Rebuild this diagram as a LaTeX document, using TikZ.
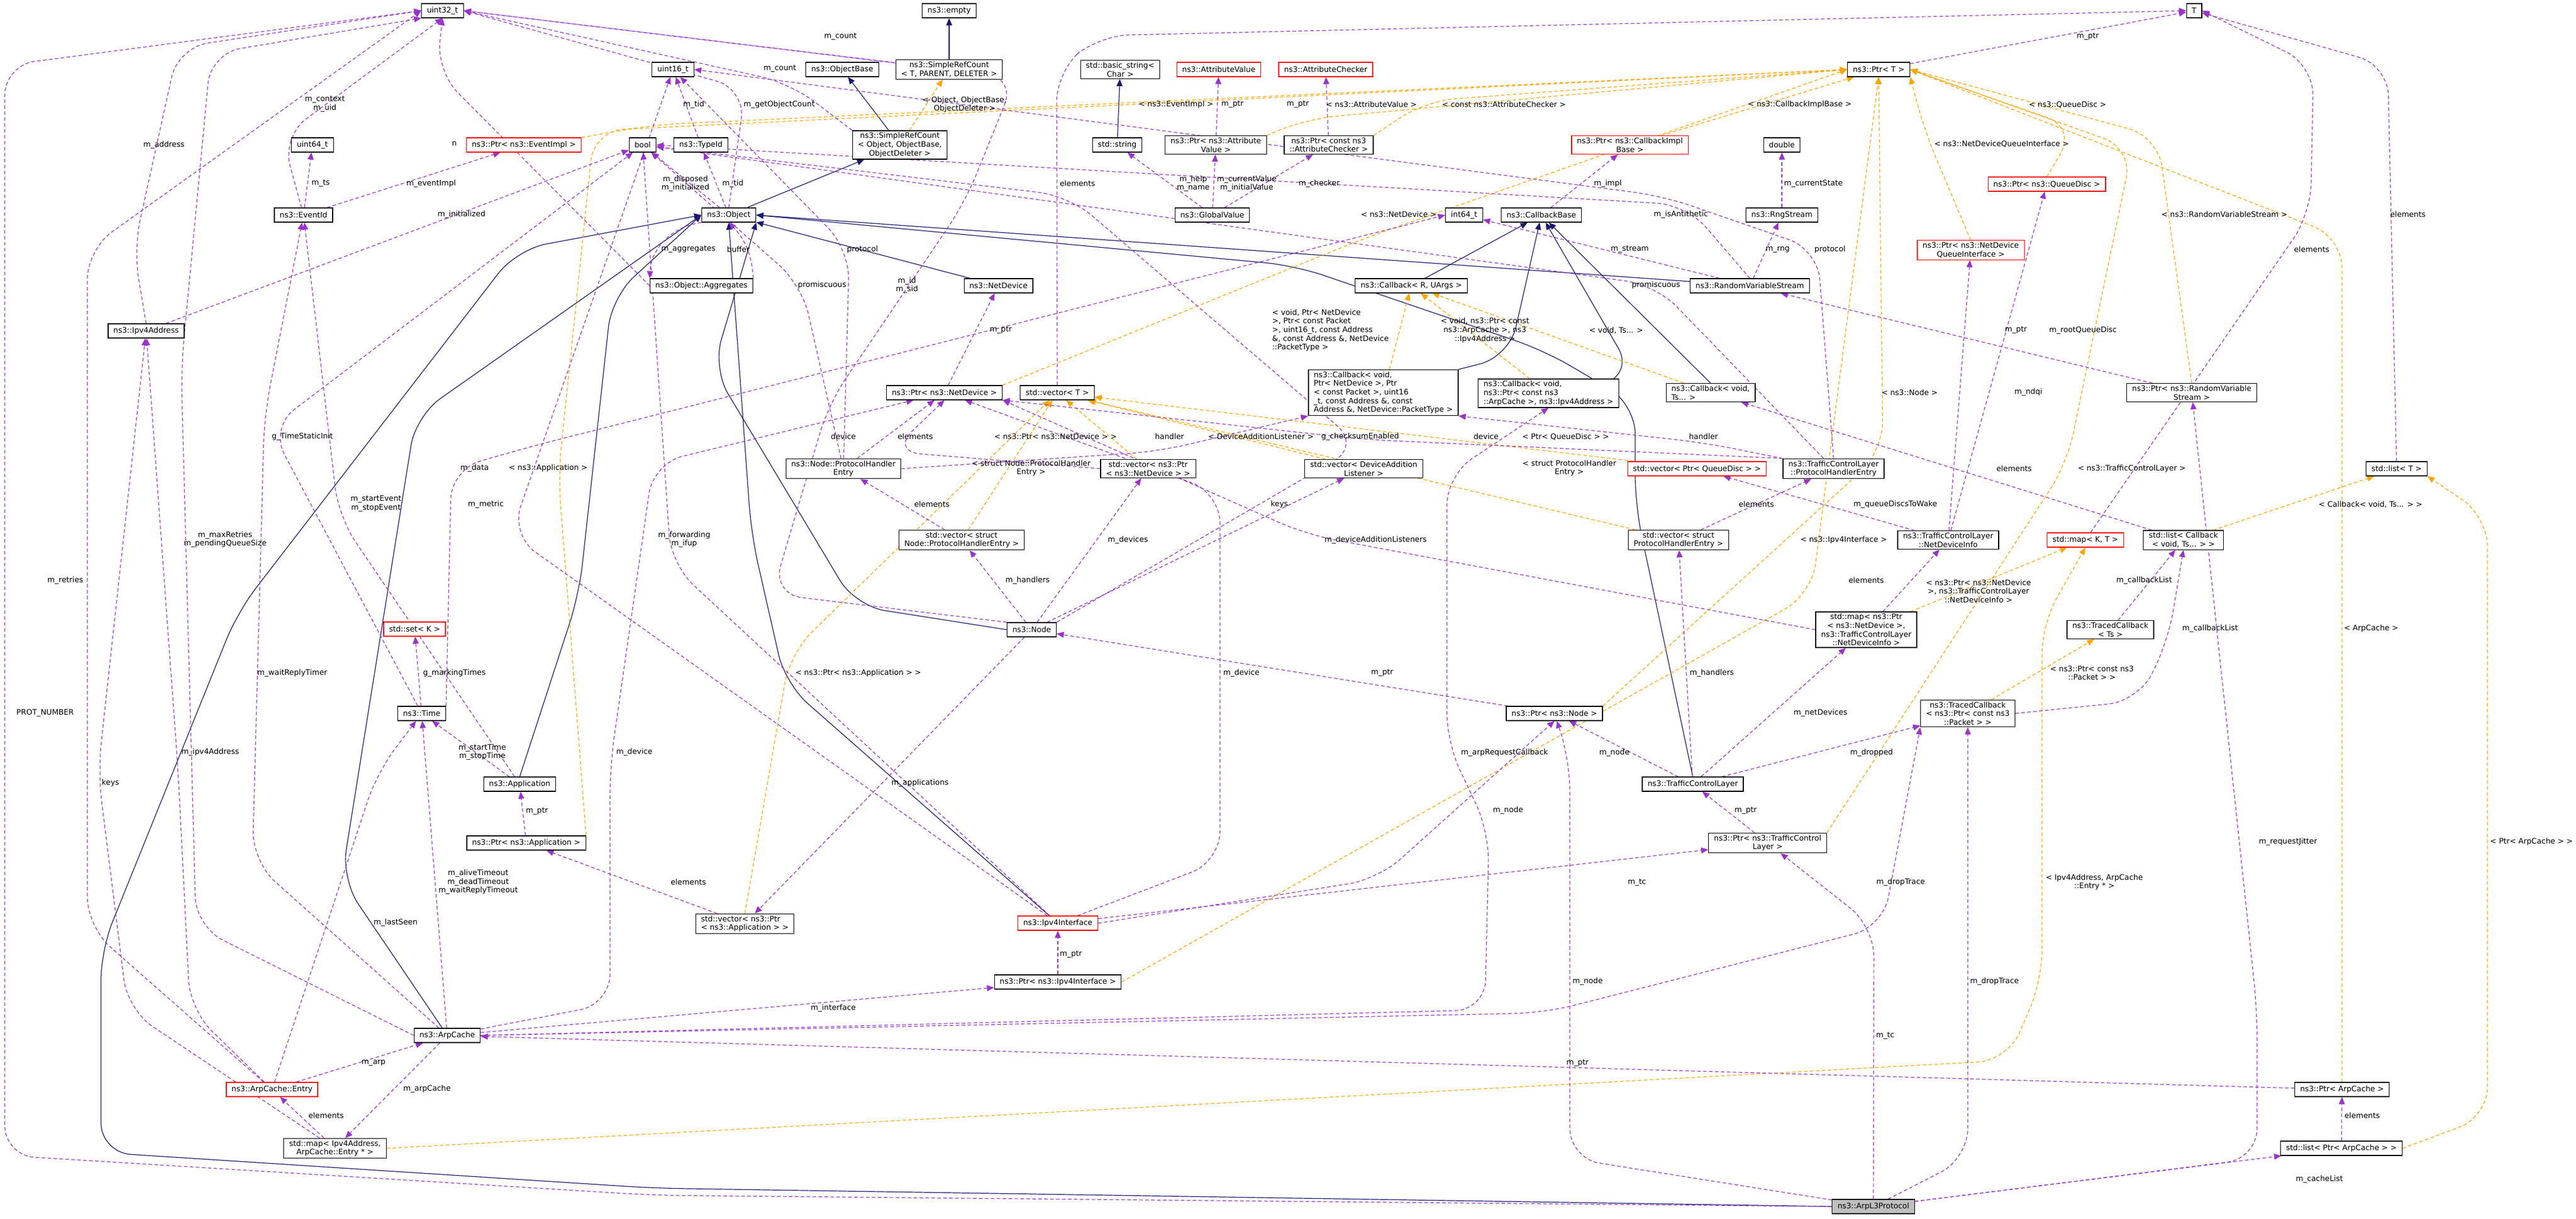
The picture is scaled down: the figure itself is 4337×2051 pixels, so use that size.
\documentclass[tikz,border=0pt]{standalone}
\usepackage{fontspec}
\setmainfont{DejaVu Sans}
\usetikzlibrary{arrows.meta}
\definecolor{mem}{HTML}{9A32CD}
\definecolor{tplc}{HTML}{FFA500}
\definecolor{inhc}{HTML}{191970}
\pgfdeclarelayer{bg}
\pgfsetlayers{bg,main}
\begin{document}
\begin{tikzpicture}[x=0.5pt,y=-0.5pt,
 every node/.style={font=\fontsize{6.4}{7.3}\selectfont},
 box/.style={draw=black,line width=0.6pt,fill=white,inner xsep=4.5pt,inner ysep=1.6pt,minimum height=12pt,align=center},
 redbox/.style={box,draw=red},
 lbl/.style={inner sep=0pt,align=center},
 memb/.style={draw=mem,line width=0.6pt,dash pattern=on 3pt off 2pt,-{Triangle[length=6pt,width=5pt]},rounded corners=25pt},
 tpl/.style={draw=tplc,line width=0.6pt,dash pattern=on 3pt off 2pt,-{Triangle[length=6pt,width=5pt]},rounded corners=25pt},
 inh/.style={draw=inhc,line width=0.6pt,-{Triangle[length=6pt,width=5pt]},rounded corners=25pt}]
\useasboundingbox (0,0) rectangle (4337,2051);
\begin{pgfonlayer}{bg}
\fill[white] (0,0) rectangle (4337,2051);
\end{pgfonlayer}
\path
 (745,18) node[box] (u32) {uint32\_t}
 (1133,117) node[box] (u16) {uint16\_t}
 (526,244) node[box] (u64) {uint64\_t}
 (882,244) node[redbox] (pEvImpl) {ns3::Ptr< ns3::EventImpl >}
 (1082,244) node[box] (bool) {bool}
 (511,362) node[box] (evid) {ns3::EventId}
 (246,557) node[box] (ipv4a) {ns3::Ipv4Address}
 (1418,117) node[box] (objbase) {ns3::ObjectBase}
 (1598,18) node[box] (empty) {ns3::empty}
 (1598,117) node[box] (srcT) {ns3::SimpleRefCount\\< T, PARENT, DELETER >}
 (1180,244) node[box] (typeid) {ns3::TypeId}
 (1515,244) node[box] (srcObj) {ns3::SimpleRefCount\\< Object, ObjectBase,\\ ObjectDeleter >}
 (1886,117) node[box] (bstr) {std::basic\_string<\\ Char >}
 (2052,117) node[redbox] (attval) {ns3::AttributeValue}
 (1881,244) node[box] (stdstr) {std::string}
 (2047,244) node[box] (pattval) {ns3::Ptr< ns3::Attribute\\Value >}
 (1227,362) node[box] (object) {ns3::Object}
 (2041,362) node[box] (gval) {ns3::GlobalValue}
 (1181,481) node[box] (aggr) {ns3::Object::Aggregates}
 (1681,481) node[box] (netdev) {ns3::NetDevice}
 (1590,661) node[box] (pnetdev) {ns3::Ptr< ns3::NetDevice >}
 (1780,661) node[box] (vecT) {std::vector< T >}
 (1420,789) node[box] (nphe) {ns3::Node::ProtocolHandler\\Entry}
 (1933,789) node[box] (vecpnd) {std::vector< ns3::Ptr\\< ns3::NetDevice > >}
 (1619,909) node[box] (vecnphe) {std::vector< struct\\ Node::ProtocolHandlerEntry >}
 (2232,117) node[redbox] (attchk) {ns3::AttributeChecker}
 (3163,117) node[box] (ptrT) {ns3::Ptr< T >}
 (2237,244) node[box] (pattchk) {ns3::Ptr< const ns3\\::AttributeChecker >}
 (2744,244) node[redbox] (pcbimpl) {ns3::Ptr< ns3::CallbackImpl\\Base >}
 (3000,244) node[box] (double) {double}
 (2465,362) node[box] (i64) {int64\_t}
 (2595,362) node[box] (cbbase) {ns3::CallbackBase}
 (3000,362) node[box] (rng) {ns3::RngStream}
 (2376,481) node[box] (cbRU) {ns3::Callback< R, UArgs >}
 (2946,481) node[box] (rvs) {ns3::RandomVariableStream}
 (2329,661) node[box,align=left] (cbND) {ns3::Callback< void,\\ Ptr< NetDevice >, Ptr\\< const Packet >, uint16\\\_t, const Address \&, const\\ Address \&, NetDevice::PacketType >}
 (2607,662) node[box,align=left] (cbArp) {ns3::Callback< void,\\ ns3::Ptr< const ns3\\::ArpCache >, ns3::Ipv4Address >}
 (2880,661) node[box,align=left] (cbTs) {ns3::Callback< void,\\ Ts... >}
 (2296,789) node[box] (vecdal) {std::vector< DeviceAddition\\Listener >}
 (2857,789) node[redbox] (vecqd) {std::vector< Ptr< QueueDisc > >}
 (3087,789) node[box] (tphe) {ns3::TrafficControlLayer\\::ProtocolHandlerEntry}
 (2826,909) node[box] (vectphe) {std::vector< struct\\ ProtocolHandlerEntry >}
 (3280,909) node[box] (ndinfo) {ns3::TrafficControlLayer\\::NetDeviceInfo}
 (3694,18) node[box] (T) {T}
 (3446,310) node[redbox] (pqd) {ns3::Ptr< ns3::QueueDisc >}
 (3318,421) node[redbox] (pndqi) {ns3::Ptr< ns3::NetDevice\\QueueInterface >}
 (3690,661) node[box] (prvs) {ns3::Ptr< ns3::RandomVariable\\Stream >}
 (4035,789) node[box] (listT) {std::list< T >}
 (3511,909) node[redbox] (mapKT) {std::map< K, T >}
 (3676,909) node[box] (listcb) {std::list< Callback\\< void, Ts... > >}
 (698,1059) node[redbox] (setK) {std::set< K >}
 (710,1201) node[box] (time) {ns3::Time}
 (875,1320) node[box] (app) {ns3::Application}
 (886,1419) node[box] (papp) {ns3::Ptr< ns3::Application >}
 (753,1743) node[box] (arpcache) {ns3::ArpCache}
 (458,1834) node[redbox] (entry) {ns3::ArpCache::Entry}
 (564,1933) node[box] (mapip) {std::map< Ipv4Address,\\ArpCache::Entry * >}
 (1737,1060) node[box] (node) {ns3::Node}
 (1254,1555) node[box,align=left] (vecpapp) {std::vector< ns3::Ptr\\< ns3::Application > >}
 (1781,1554) node[redbox] (ipv4if) {ns3::Ipv4Interface}
 (1781,1653) node[box] (pipv4if) {ns3::Ptr< ns3::Ipv4Interface >}
 (3142,1060) node[box] (mapnd) {std::map< ns3::Ptr\\< ns3::NetDevice >,\\ ns3::TrafficControlLayer\\::NetDeviceInfo >}
 (2617,1201) node[box] (pnode) {ns3::Ptr< ns3::Node >}
 (2850,1320) node[box] (tcl) {ns3::TrafficControlLayer}
 (2976,1419) node[box] (ptcl) {ns3::Ptr< ns3::TrafficControl\\Layer >}
 (3154,2031) node[box,fill=black!25] (arpl3) {ns3::ArpL3Protocol}
 (3313,1201) node[box] (tcpkt) {ns3::TracedCallback\\< ns3::Ptr< const ns3\\::Packet > >}
 (3553,1060) node[box] (tcTs) {ns3::TracedCallback\\< Ts >}
 (3943,1834) node[box] (parp) {ns3::Ptr< ArpCache >}
 (3942,1933) node[box] (listparp) {std::list< Ptr< ArpCache > >};
\begin{pgfonlayer}{bg}
% ---------- inheritance ----------
\draw[inh] (srcT) -- (empty);
\draw[inh] (srcObj) -- (objbase);
\draw[inh] (object) -- (srcObj);
\draw[inh] (stdstr) -- (bstr);
\draw[inh] (netdev) -- (object);
\draw[inh] (node.west) -- (1440,1020) -- (1200,620) -- (object.south east);
\draw[inh] (app.north) -- (975,1000) -- (1030,500) -- (object.west);
\draw[inh] (arpcache) -- (575,1480) -- (700,700) -- (object.west);
\draw[inh] (ipv4if) -- (1322,1151) -- (1265,900) -- (object.south);
\draw[inh] (tcl.north) -- (2753,850) -- (2753,680) -- (2600,590) -- (2180,447) -- (object.east);
\draw[inh] (rvs) -- (object.east);
\draw[inh] (arpl3.west) -- (1100,2000) -- (170,1940) -- (170,1600) -- (400,1030) -- (870,420) -- (object.west);
\draw[inh] (cbRU) -- (cbbase);
\draw[inh] (cbND.north east) -- (2541,600) -- (cbbase);
\draw[inh] (cbArp.north east) -- (2750,630) -- (cbbase);
\draw[inh] (cbTs.north) -- (cbbase);
% ---------- templates ----------
\draw[tpl] (pEvImpl.north east) -- (1100,210) -- (ptrT.west);
\draw[tpl] (pattval.north east) -- (2200,200) -- (ptrT.west);
\draw[tpl] (pattchk.north east) -- (2400,170) -- (ptrT.west);
\draw[tpl] (pcbimpl) -- (ptrT);
\draw[tpl] (pnetdev.north east) -- (2300,400) -- (ptrT.west);
\draw[tpl] (pqd.north) -- (3495,215) -- (ptrT.east);
\draw[tpl] (pndqi.north) -- (3240,220) -- (ptrT.south east);
\draw[tpl] (prvs.north) -- (3633,230) -- (ptrT.east);
\draw[tpl] (pnode.north east) -- (3170,760) -- (ptrT.south);
\draw[tpl] (ptcl.north east) -- (3480,780) -- (3590,250) -- (ptrT.east);
\draw[tpl] (pipv4if.east) -- (3050,1000) -- (ptrT.south);
\draw[tpl] (papp.north east) -- (940,800) -- (1000,220) -- (ptrT.west);
\draw[tpl] (parp.north) -- (3943,400) -- (ptrT.east);
\draw[tpl] (srcObj) -- (srcT);
\draw[tpl] (vecpapp.north) -- (1330,1100) -- (vecT);
\draw[tpl] (vecnphe) -- (vecT);
\draw[tpl] (vecpnd) -- (vecT);
\draw[tpl] (vecdal) -- (vecT);
\draw[tpl] (vecqd) -- (vecT);
\draw[tpl] (vectphe) -- (vecT);
\draw[tpl] (cbND) -- (cbRU);
\draw[tpl] (cbArp) -- (cbRU);
\draw[tpl] (cbTs) -- (cbRU);
\draw[tpl] (listcb) -- (listT);
\draw[tpl] (listparp.east) -- (4188,1880) -- (4188,870) -- (listT.south east);
\draw[tpl] (mapnd) -- (mapKT);
\draw[tpl] (mapip.east) -- (3380,1785) -- (3438,1650) -- (3438,1050) -- (mapKT.south);
\draw[tpl] (tcpkt) -- (tcTs);
% ---------- members ----------
\draw[memb] (arpl3.west) -- (1100,2012) -- (8,1945) -- (8,110) -- (u32.west);
\draw[memb] (ipv4a.north) -- (225,420) -- (300,80) -- (u32.west);
\draw[memb] (entry) -- (147,1560) -- (147,420) -- (u32.west);
\draw[memb] (arpcache.west) -- (330,1560) -- (305,620) -- (355,90) -- (u32.south west);
\draw[memb] (evid) -- (475,230) -- (u32.south);
\draw[memb] (evid) -- (u64);
\draw[memb] (evid) -- (pEvImpl);
\draw[memb] (app) -- (570,870) -- (evid);
\draw[memb] (arpcache) -- (425,1450) -- (445,700) -- (evid);
\draw[memb] (ipv4a) -- (bool);
\draw[memb] (time) -- (455,720) -- (bool);
\draw[memb] (time.north east) -- (760,790) -- (900,750) -- (i64.west);
\draw[memb] (ipv4if) -- (860,900) -- (u16);
\draw[memb] (ipv4if) -- (1130,950) -- (bool);
\draw[memb] (aggr.west) -- (735,120) -- (u32.south);
\draw[memb] (object.north) -- (1255,150) -- (u32.east);
\draw[memb] (srcT) -- (u32.east);
\draw[memb] (srcObj.north west) -- (1330,140) -- (u32.east);
\draw[memb] (typeid) -- (u16);
\draw[memb] (object) -- (typeid);
\draw[memb] (object) -- (bool);
\draw[memb] (object.south west) to[bend right=40] (aggr.north west);
\draw[memb] (aggr.north east) to[bend right=20] (object.south);
\draw[memb] (pnetdev) -- (netdev);
\draw[memb] (mapip) -- (215,1700) -- (165,1300) -- (ipv4a);
\draw[memb] (entry) -- (320,1700) -- (300,1300) -- (ipv4a);
\draw[memb] (time) -- (setK);
\draw[memb] (app) -- (time);
\draw[memb] (arpcache) -- (time);
\draw[memb] (entry) -- (635,1300) -- (time);
\draw[memb] (papp) -- (app);
\draw[memb] (vecpapp) -- (papp);
\draw[memb] (node) -- (vecpapp);
\draw[memb] (entry) -- (arpcache);
\draw[memb] (arpcache) -- (mapip);
\draw[memb] (mapip) -- (entry);
\draw[memb] (arpcache) -- (pipv4if);
\draw[memb] (pipv4if) -- (ipv4if);
\draw[memb] (arpcache) -- (1027,1690) -- (1027,1290) -- (1100,780) -- (pnetdev);
\draw[memb] (parp) -- (arpcache);
\draw[memb] (arpcache.east) -- (2600,1705) -- (3170,1560) -- (tcpkt.south west);
\draw[memb] (arpcache.east) -- (2500,1700) -- (2507,1400) -- (2436,1250) -- (2436,800) -- (cbArp.south);
\draw[memb] (ipv4if.east) -- (2320,1480) -- (pnode.south);
\draw[memb] (ipv4if) -- (ptcl);
\draw[memb] (ipv4if) -- (2054,1450) -- (2054,830) -- (pnetdev);
\draw[memb] (arpl3) -- (2643,1950) -- (2643,1280) -- (pnode);
\draw[memb] (arpl3) -- (3155,1560) -- (ptcl);
\draw[memb] (arpl3) -- (3313,1950) -- (tcpkt);
\draw[memb] (arpl3) -- (3800,1950) -- (3800,1700) -- (prvs);
\draw[memb] (arpl3) -- (listparp);
\draw[memb] (pnode) -- (node);
\draw[memb] (node) -- (vecnphe);
\draw[memb] (node) -- (vecpnd);
\draw[memb] (node) -- (vecdal);
\draw[memb] (node.north west) -- (1300,1000) -- (1395,680) -- (1625,340) -- (1710,130) -- (u32.east);
\draw[memb] (node.north east) -- (2290,750) -- (1800,330) -- (bool);
\draw[memb] (vecnphe) -- (nphe);
\draw[memb] (nphe) -- (pnetdev);
\draw[memb] (nphe) -- (1350,480) -- (bool);
\draw[memb] (nphe) -- (1430,420) -- (u16);
\draw[memb] (nphe.east) -- (1950,760) -- (cbND.south west);
\draw[memb] (tphe.north west) -- (2868,745) -- (cbND.south east);
\draw[memb] (vecpnd.west) -- (1500,760) -- (pnetdev.south);
\draw[memb] (tphe.north west) -- (2300,740) -- (pnetdev.south east);
\draw[memb] (tphe.north) -- (3060,420) -- (2800,330) -- (u16.east);
\draw[memb] (tphe) -- (2788,480) -- (bool);
\draw[memb] (vectphe) -- (tphe);
\draw[memb] (tcl) -- (vectphe);
\draw[memb] (tcl) -- (mapnd);
\draw[memb] (tcl) -- (tcpkt);
\draw[memb] (tcl) -- (pnode);
\draw[memb] (ptcl) -- (tcl);
\draw[memb] (mapnd) -- (ndinfo);
\draw[memb] (mapnd.west) -- (2200,900) -- (pnetdev.south east);
\draw[memb] (ndinfo) -- (pndqi);
\draw[memb] (ndinfo) -- (pqd);
\draw[memb] (ndinfo) -- (vecqd);
\draw[memb] (prvs) -- (rvs);
\draw[memb] (rvs) -- (rng);
\draw[memb] (rng) -- (double);
\draw[memb] (rvs) -- (i64);
\draw[memb] (rvs.north) -- (2840,345) -- (bool.east);
\draw[memb] (cbbase) -- (pcbimpl);
\draw[memb] (gval) -- (stdstr);
\draw[memb] (gval) -- (pattval);
\draw[memb] (gval) -- (pattchk);
\draw[memb] (pattval) -- (attval);
\draw[memb] (pattchk) -- (attchk);
\draw[memb] (ptrT) -- (T);
\draw[memb] (vecT.north) -- (1779,120) -- (1850,60) -- (T.west);
\draw[memb] (listT) -- (4020,110) -- (T);
\draw[memb] (mapKT) -- (3890,360) -- (3895,110) -- (T.east);
\draw[memb] (listcb) -- (cbTs);
\draw[memb] (tcpkt.east) -- (3600,1180) -- (3650,1080) -- (listcb.south);
\draw[memb] (tcTs) -- (listcb);
\draw[memb] (listparp) -- (parp);
\end{pgfonlayer}
% ---------- labels ----------
\path
 (76,1200) node[lbl] (l1) {PROT\_NUMBER}
 (276,244) node[lbl] (l2) {m\_address}
 (110,977) node[lbl] (l3) {m\_retries}
 (379,908) node[lbl] (l4) {m\_maxRetries\\m\_pendingQueueSize}
 (547,175) node[lbl] (l5) {m\_context\\m\_uid}
 (540,309) node[lbl] (l6) {m\_ts}
 (726,309) node[lbl] (l7) {m\_eventImpl}
 (633,848) node[lbl] (l8) {m\_startEvent\\m\_stopEvent}
 (492,1133) node[lbl] (l9) {m\_waitReplyTimer}
 (777,361) node[lbl] (l10) {m\_initialized}
 (509,735) node[lbl] (l11) {g\_TimeStaticInit}
 (799,788) node[lbl] (l12) {m\_data}
 (818,849) node[lbl] (l13) {m\_metric}
 (1152,908) node[lbl] (l14) {m\_forwarding\\m\_ifup}
 (765,242) node[lbl] (l15) {n}
 (1312,176) node[lbl] (l16) {m\_getObjectCount}
 (1415,62) node[lbl] (l17) {m\_count}
 (1313,116) node[lbl] (l18) {m\_count}
 (1168,176) node[lbl] (l19) {m\_tid}
 (1234,309) node[lbl] (l20) {m\_tid}
 (1154,309) node[lbl] (l21) {m\_disposed\\m\_initialized}
 (1159,420) node[lbl] (l22) {m\_aggregates}
 (1243,420) node[lbl] (l23) {buffer}
 (1685,556) node[lbl] (l24) {m\_ptr}
 (186,1318) node[lbl] (l25) {keys}
 (354,1266) node[lbl] (l26) {m\_ipv4Address}
 (765,1133) node[lbl] (l27) {g\_markingTimes}
 (812,1266) node[lbl] (l28) {m\_startTime\\m\_stopTime}
 (805,1485) node[lbl] (l29) {m\_aliveTimeout\\m\_deadTimeout\\m\_waitReplyTimeout}
 (666,1553) node[lbl] (l30) {m\_lastSeen}
 (904,1365) node[lbl] (l31) {m\_ptr}
 (1159,1485) node[lbl] (l32) {elements}
 (1549,1318) node[lbl] (l33) {m\_applications}
 (629,1789) node[lbl] (l34) {m\_arp}
 (719,1833) node[lbl] (l35) {m\_arpCache}
 (549,1878) node[lbl] (l36) {elements}
 (1403,1697) node[lbl] (l37) {m\_interface}
 (1803,1606) node[lbl] (l38) {m\_ptr}
 (1068,1266) node[lbl] (l39) {m\_device}
 (2656,1789) node[lbl] (l40) {m\_ptr}
 (3200,1485) node[lbl] (l41) {m\_dropTrace}
 (2533,1267) node[lbl] (l42) {m\_arpRequestCallback}
 (2539,1364) node[lbl] (l43) {m\_node}
 (2756,1485) node[lbl] (l44) {m\_tc}
 (2090,1133) node[lbl] (l45) {m\_device}
 (2673,1652) node[lbl] (l46) {m\_node}
 (3174,1743) node[lbl] (l47) {m\_tc}
 (3358,1652) node[lbl] (l48) {m\_dropTrace}
 (3852,1417) node[lbl] (l49) {m\_requestJitter}
 (3905,1985) node[lbl] (l50) {m\_cacheList}
 (2327,1133) node[lbl] (l51) {m\_ptr}
 (1730,977) node[lbl] (l52) {m\_handlers}
 (1899,909) node[lbl] (l53) {m\_devices}
 (2316,909) node[lbl] (l54) {m\_deviceAdditionListeners}
 (1527,480) node[lbl] (l55) {m\_id\\m\_sid}
 (2290,735) node[lbl] (l56) {g\_checksumEnabled}
 (1569,849) node[lbl] (l57) {elements}
 (1420,735) node[lbl] (l58) {device}
 (1384,480) node[lbl] (l59) {promiscuous}
 (1452,420) node[lbl] (l60) {protocol}
 (1969,735) node[lbl] (l61) {handler}
 (2868,735) node[lbl] (l62) {handler}
 (1541,735) node[lbl] (l63) {elements}
 (2502,735) node[lbl] (l64) {device}
 (3081,420) node[lbl] (l65) {protocol}
 (2788,480) node[lbl] (l66) {promiscuous}
 (2957,849) node[lbl] (l67) {elements}
 (2882,1133) node[lbl] (l68) {m\_handlers}
 (3065,1200) node[lbl] (l69) {m\_netDevices}
 (3151,1267) node[lbl] (l70) {m\_dropped}
 (2718,1267) node[lbl] (l71) {m\_node}
 (2939,1364) node[lbl] (l72) {m\_ptr}
 (3142,977) node[lbl] (l73) {elements}
 (2154,849) node[lbl] (l74) {keys}
 (3415,660) node[lbl] (l75) {m\_ndqi}
 (3507,556) node[lbl] (l76) {m\_rootQueueDisc}
 (3191,849) node[lbl] (l77) {m\_queueDiscsToWake}
 (3394,556) node[lbl] (l78) {m\_ptr}
 (2993,420) node[lbl] (l79) {m\_rng}
 (3053,309) node[lbl] (l80) {m\_currentState}
 (2744,420) node[lbl] (l81) {m\_stream}
 (2830,361) node[lbl] (l82) {m\_isAntithetic}
 (2707,309) node[lbl] (l83) {m\_impl}
 (2009,309) node[lbl] (l84) {m\_help\\m\_name}
 (2099,309) node[lbl] (l85) {m\_currentValue\\m\_initialValue}
 (2221,309) node[lbl] (l86) {m\_checker}
 (2075,176) node[lbl] (l87) {m\_ptr}
 (2185,176) node[lbl] (l88) {m\_ptr}
 (3515,62) node[lbl] (l89) {m\_ptr}
 (1814,309) node[lbl] (l90) {elements}
 (4054,361) node[lbl] (l91) {elements}
 (3892,420) node[lbl] (l92) {elements}
 (3391,789) node[lbl] (l93) {elements}
 (3721,1058) node[lbl] (l94) {m\_callbackList}
 (3610,977) node[lbl] (l95) {m\_callbackList}
 (3977,1878) node[lbl] (l96) {elements}
 (1980,176) node[lbl] (t1) {< ns3::EventImpl >}
 (2309,176) node[lbl] (t2) {< ns3::AttributeValue >}
 (2532,176) node[lbl] (t3) {< const ns3::AttributeChecker >}
 (3030,176) node[lbl] (t4) {< ns3::CallbackImplBase >}
 (2355,361) node[lbl] (t5) {< ns3::NetDevice >}
 (3481,176) node[lbl] (t6) {< ns3::QueueDisc >}
 (3370,242) node[lbl] (t7) {< ns3::NetDeviceQueueInterface >}
 (3745,361) node[lbl] (t8) {< ns3::RandomVariableStream >}
 (3215,661) node[lbl] (t9) {< ns3::Node >}
 (3589,789) node[lbl] (t10) {< ns3::TrafficControlLayer >}
 (3104,909) node[lbl] (t11) {< ns3::Ipv4Interface >}
 (923,788) node[lbl] (t12) {< ns3::Application >}
 (3992,1058) node[lbl] (t13) {< ArpCache >}
 (1624,176) node[lbl] (t14) {< Object, ObjectBase,\\ObjectDeleter >}
 (1445,1133) node[lbl] (t15) {< ns3::Ptr< ns3::Application > >}
 (1736,788) node[lbl] (t16) {< struct Node::ProtocolHandler\\Entry >}
 (1777,735) node[lbl] (t17) {< ns3::Ptr< ns3::NetDevice > >}
 (2123,735) node[lbl] (t18) {< DeviceAdditionListener >}
 (2636,735) node[lbl] (t19) {< Ptr< QueueDisc > >}
 (2642,788) node[lbl] (t20) {< struct ProtocolHandler\\Entry >}
 (2240,556) node[lbl,align=left] (t21) {< void, Ptr< NetDevice\\>, Ptr< const Packet\\>, uint16\_t, const Address\\\&, const Address \&, NetDevice\\::PacketType >}
 (2500,556) node[lbl] (t22) {< void, ns3::Ptr< const\\ns3::ArpCache >, ns3\\::Ipv4Address >}
 (2721,556) node[lbl] (t23) {< void, Ts... >}
 (3991,849) node[lbl] (t24) {< Callback< void, Ts... > >}
 (4262,1417) node[lbl] (t25) {< Ptr< ArpCache > >}
 (3331,995) node[lbl] (t26) {< ns3::Ptr< ns3::NetDevice\\>, ns3::TrafficControlLayer\\::NetDeviceInfo >}
 (3526,1485) node[lbl] (t27) {< Ipv4Address, ArpCache\\::Entry * >}
 (3522,1133) node[lbl] (t28) {< ns3::Ptr< const ns3\\::Packet > >};
\end{tikzpicture}
\end{document}
